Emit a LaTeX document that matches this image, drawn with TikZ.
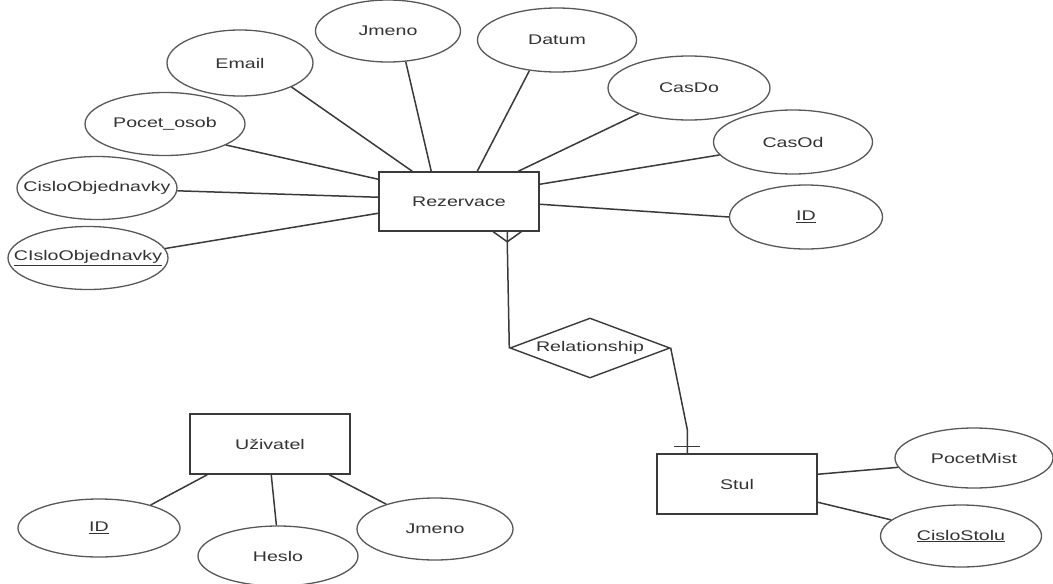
\documentclass[tikz,border=0pt]{standalone}
\usepackage{fontspec}
\setmainfont{Liberation Sans}
\usetikzlibrary{shapes.geometric,calc}
\definecolor{ln}{HTML}{3A3A3A}
\definecolor{tx}{HTML}{333333}
\newcommand{\lbl}[1]{\scalebox{1.4}[1]{\fontsize{14}{16}\selectfont #1}}
\begin{document}
\begin{tikzpicture}[x=1pt,y=-1pt,
  ent/.style={rectangle, draw=ln, line width=1.5pt, minimum width=160pt, minimum height=59pt, inner sep=0pt, text=tx, fill=white},
  attr/.style={ellipse, draw=ln!85, line width=1.3pt, inner sep=0pt, minimum width=160pt, minimum height=64pt, fill=white, label={[text=tx, inner sep=0pt]center:\lbl{#1}}},
  rels/.style={diamond, draw=ln, line width=1.4pt, inner sep=0pt, minimum width=160pt, minimum height=60pt, fill=white, label={[text=tx, inner sep=0pt]center:\lbl{#1}}},
  con/.style={draw=ln, line width=1.5pt}]
\useasboundingbox[fill=white] (0,0) rectangle (1053,584);

% entities
\node[ent] (rez) at (459,201.5) {\lbl{Rezervace}};
\node[ent, minimum height=60pt] (stul) at (737,484) {\lbl{Stul}};
\node[ent, minimum height=60pt] (uziv) at (270,444) {\lbl{Uživatel}};

% attributes of Rezervace
\node[attr=Email, minimum width=146pt, minimum height=66pt] (email) at (240,63) {};
\node[attr=Jmeno, minimum width=145pt, minimum height=62pt] (jmeno) at (388,31) {};
\node[attr=Datum, minimum width=159pt] (datum) at (557,40) {};
\node[attr=CasDo, minimum width=162pt] (casdo) at (689,88) {};
\node[attr=CasOd, minimum width=159pt] (casod) at (793,142) {};
\node[attr=\underline{ID}, minimum width=153pt] (rid) at (806,217) {};
\node[attr=Pocet\_osob, minimum height=63pt] (pocet) at (165,124) {};
\node[attr=CisloObjednavky, minimum height=63pt] (cisa) at (97,188) {};
\node[attr=\underline{CIsloObjednavky}, minimum height=63pt] (cisb) at (88,258) {};

% relationship
\node[rels=Relationship] (rel) at (590,348) {};

% attributes of Stul
\node[attr=PocetMist, minimum width=158pt, minimum height=60pt] (pmist) at (974,458) {};
\node[attr=\underline{CisloStolu}, minimum width=161pt, minimum height=62pt] (cstol) at (961,536) {};

% attributes of Uzivatel
\node[attr=\underline{ID}, minimum width=162pt, minimum height=58pt] (uid) at (99,528) {};
\node[attr=Heslo, minimum height=60pt] (heslo) at (278,556) {};
\node[attr=Jmeno, minimum width=156pt, minimum height=62pt] (ujm) at (435,529) {};

% connectors Rezervace
\draw[con] (email.-25) -- ($(rez.north west)+(34,0)$);
\draw[con] (jmeno.-60) -- ($(rez.north west)+(53,0)$);
\draw[con] (datum.-132) -- ($(rez.north west)+(99,0)$);
\draw[con] (casdo.207) -- ($(rez.north west)+(140,0)$);
\draw[con] (casod.190) -- ($(rez.north east)+(0,13)$);
\draw[con] (rid.180) -- ($(rez.north east)+(0,33)$);
\draw[con] (pocet.-19) -- ($(rez.north west)+(0,8)$);
\draw[con] (cisa.-2) -- ($(rez.north west)+(0,26)$);
\draw[con] (cisb.7) -- ($(rez.north west)+(0,42)$);

% crow's foot (many) at Rezervace
\draw[con] (rel.west) -- ($(rez.south west)+(129,10)$) -- ($(rez.south west)+(129,0)$);
\draw[con] ($(rez.south west)+(115,0)$) -- ($(rez.south west)+(129,10)$) -- ($(rez.south west)+(143,0)$);

% one at Stul
\coordinate (bend) at ($(stul.north west)+(31,-24)$);
\draw[con] (rel.east) -- (bend) -- ($(stul.north west)+(31,0)$);
\draw[con] ($(stul.north west)+(18,-7)$) -- ($(stul.north west)+(44,-7)$);

% connectors Stul
\draw[con] ($(stul.north east)+(0,21)$) -- (pmist.187);
\draw[con] ($(stul.north east)+(0,49)$) -- (cstol.167);

% connectors Uzivatel
\draw[con] ($(uziv.south west)+(18,0)$) -- (uid.24);
\draw[con] ($(uziv.south west)+(82,0)$) -- (heslo.93);
\draw[con] ($(uziv.south west)+(140,0)$) -- (ujm.153);
\end{tikzpicture}
\end{document}
